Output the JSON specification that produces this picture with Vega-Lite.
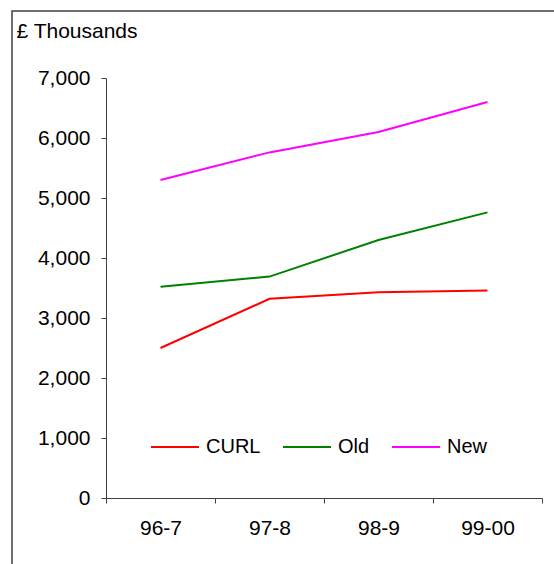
{
  "$schema": "https://vega.github.io/schema/vega-lite/v6.json",
  "width": 542,
  "height": 553,
  "autosize": "none",
  "padding": {"left": 12, "top": 11, "right": 0, "bottom": 0},
  "background": "white",
  "config": {
    "view": {"stroke": "#404040", "strokeWidth": 1.5, "strokeDash": [542, 1095, 553]},
    "font": "Liberation Sans"
  },
  "data": {
    "values": [
      {"year": "96-7", "series": "CURL", "value": 2500},
      {"year": "97-8", "series": "CURL", "value": 3320},
      {"year": "98-9", "series": "CURL", "value": 3430},
      {"year": "99-00", "series": "CURL", "value": 3460},
      {"year": "96-7", "series": "Old", "value": 3520},
      {"year": "97-8", "series": "Old", "value": 3690},
      {"year": "98-9", "series": "Old", "value": 4300},
      {"year": "99-00", "series": "Old", "value": 4760},
      {"year": "96-7", "series": "New", "value": 5300},
      {"year": "97-8", "series": "New", "value": 5760},
      {"year": "98-9", "series": "New", "value": 6100},
      {"year": "99-00", "series": "New", "value": 6600}
    ]
  },
  "mark": {"type": "line", "strokeWidth": 2},
  "encoding": {
    "x": {
      "field": "year", "type": "ordinal", "sort": null,
      "scale": {"type": "band", "range": [94, 530], "paddingInner": 0, "paddingOuter": 0},
      "axis": {
        "title": null, "offset": -66, "tickBand": "extent", "labelAngle": 0,
        "labelFontSize": 21, "labelColor": "black", "labelPadding": 14, "tickSize": 5,
        "domainColor": "#404040", "tickColor": "#404040", "labelFont": "Liberation Sans", "grid": false
      }
    },
    "y": {
      "field": "value", "type": "quantitative",
      "scale": {"domain": [0, 7000], "range": [487, 67], "nice": false},
      "axis": {
        "offset": -94, "values": [0, 1000, 2000, 3000, 4000, 5000, 6000, 7000], "format": ",d",
        "grid": false, "title": "£ Thousands", "titleAngle": 0, "titleX": -90, "titleY": 26,
        "titleAlign": "left", "titleBaseline": "alphabetic", "titleFontSize": 21, "titleFontWeight": "normal",
        "titleColor": "black", "titleFont": "Liberation Sans",
        "labelFontSize": 21, "labelColor": "black", "labelPadding": 11, "tickSize": 5,
        "domainColor": "#404040", "tickColor": "#404040", "labelFont": "Liberation Sans"
      }
    },
    "color": {
      "field": "series", "type": "nominal",
      "scale": {"domain": ["CURL", "Old", "New"], "range": ["#FF0000", "#008000", "#FF00FF"]},
      "legend": {
        "orient": "none", "legendX": 138, "legendY": 411, "direction": "horizontal", "title": null,
        "symbolType": "stroke", "symbolSize": 2304, "symbolStrokeWidth": 2,
        "labelFontSize": 20, "labelOffset": 6, "columnPadding": 18, "padding": 0,
        "labelColor": "black", "labelFont": "Liberation Sans"
      }
    }
  }
}
